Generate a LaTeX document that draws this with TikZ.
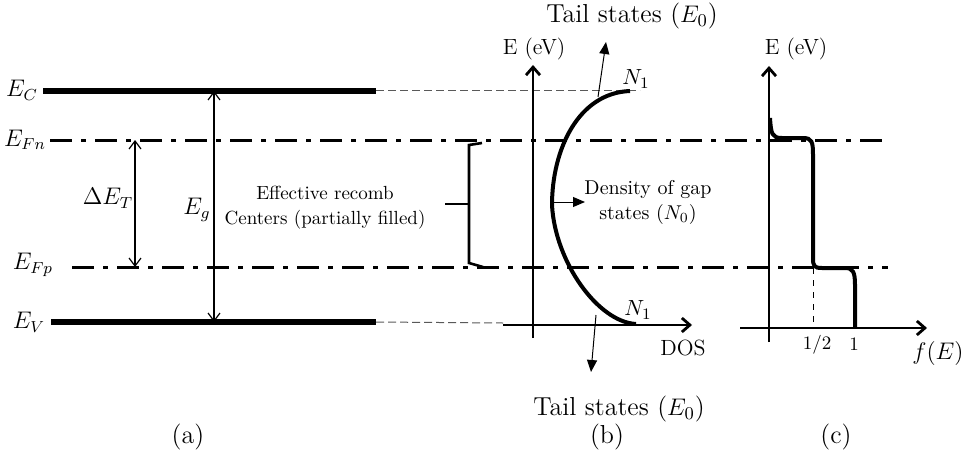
\documentclass[tikz,border=0pt]{standalone}
\usepackage{amsmath,amssymb}
\usetikzlibrary{arrows.meta,positioning}

\begin{document}
\begin{tikzpicture}[
  x=0.5pt, y=-0.5pt,
  band/.style={line width=2.6pt},
  fermi/.style={line width=1.5pt, dash pattern=on 11pt off 4.5pt on 2.5pt off 4.5pt},
  ext/.style={line width=0.5pt, black!65, dash pattern=on 4pt off 2pt},
  axis/.style={line width=1.4pt, -{Straight Barb[length=4pt,width=7pt]}},
  dimarr/.style={line width=0.6pt, {Straight Barb[length=4pt,width=6pt]}-{Straight Barb[length=4pt,width=6pt]}},
  tail/.style={line width=0.5pt, -{Triangle[length=6pt,width=5pt]}},
  curve/.style={line width=2pt},
  lab/.style={font=\fontsize{11}{13}\selectfont, inner sep=1pt},
  elab/.style={font=\fontsize{12}{14}\selectfont, inner sep=1pt},
  txt/.style={font=\fontsize{9.5}{12.5}\selectfont, align=center, inner sep=1pt},
  big/.style={font=\fontsize{13}{15}\selectfont, inner sep=1pt}
]
\useasboundingbox (0,0) rectangle (967,460);

% (a) band diagram
\coordinate (ECl) at (43,91);   \coordinate (ECr) at (376,91);  \coordinate (ECd) at (640,91);
\coordinate (EVl) at (51,322);  \coordinate (EVr) at (376,322); \coordinate (EVd) at (503,323);
\coordinate (EFnl) at (50,140); \coordinate (EFnr) at (885,140);
\coordinate (EFpl) at (72,267); \coordinate (EFpr) at (888,267);
\coordinate (dEt) at (135,140); \coordinate (dEb) at (135,267);
\coordinate (Egt) at (214,91);  \coordinate (Egb) at (214,322);

\draw[band] (ECl) -- (ECr);
\draw[band] (EVl) -- (EVr);
\draw[ext] (ECr) -- (ECd);
\draw[ext] (EVr) -- (EVd);
\draw[fermi] (EFnl) -- (EFnr);
\draw[fermi] (EFpl) -- (EFpr);
\draw[dimarr] (dEt) -- (dEb);
\draw[dimarr] (Egt) -- (Egb);

\node[elab] (ec) at (22,90) {$E_C$};
\node[elab] (efn) at (25,140) {$E_{Fn}$};
\node[elab] (efp) at (33,265) {$E_{Fp}$};
\node[elab] (ev) at (29,322) {$E_V$};
\node[elab] (de) at (108,198) {$\Delta E_T$};
\node[elab] (eg) at (197,210) {$E_g$};
\node[txt] (rec) at (325,208) {Effective recomb\\Centers (partially filled)};

% brace for the recombination centres
\coordinate (br1) at (482,143); \coordinate (br2) at (469,145);
\coordinate (br3) at (469,263); \coordinate (br4) at (483,267);
\coordinate (brm) at (469,204); \coordinate (brt) at (445,204);
\draw[line width=1.3pt] (br1) -- (br2) -- (br3) -- (br4);
\draw[line width=1.3pt] (brt) -- (brm);

% (b) density of states
\coordinate (Ob) at (533,338);  \coordinate (Eb) at (533,65);
\coordinate (Db0) at (503,325); \coordinate (Db) at (692,325);
\draw[axis] (Ob) -- (Eb);
\draw[axis] (Db0) -- (Db);
\node[lab] (Elb) at (534,49) {E (eV)};
\node[lab] (dos) at (683,348) {DOS};

\coordinate (N1t) at (630,91); \coordinate (N1b) at (636,324);
\draw[curve] (N1t) .. controls (578,93) and (552,150) .. (552,205)
  .. controls (555,262) and (598,322) .. (N1b);
\node[lab] (n1t) at (636,79) {$N_1$};
\node[lab] (n1b) at (638,310) {$N_1$};

\coordinate (ts1) at (598,97);  \coordinate (te1) at (606,42);
\coordinate (ts2) at (596,315); \coordinate (te2) at (591,372);
\draw[tail] (ts1) -- (te1);
\draw[tail] (ts2) -- (te2);
\node[big] (tailt) at (632,16) {Tail states ($E_0$)};
\node[big] (tailb) at (619,409) {Tail states ($E_0$)};

\coordinate (gs) at (553,202); \coordinate (ge) at (585,202);
\draw[tail] (gs) -- (ge);
\node[txt, font=\fontsize{10}{12.5}\selectfont] (gap) at (648,202) {Density of gap\\states ($N_0$)};

% (c) occupation function
\coordinate (Oc) at (769,342); \coordinate (Ec) at (769,66);
\coordinate (Fc0) at (740,328); \coordinate (Fc) at (927,328);
\draw[axis] (Oc) -- (Ec);
\draw[axis] (Fc0) -- (Fc);
\node[lab] (Elc) at (796,49) {E (eV)};
\node[elab] (fe) at (938,353) {$f(E)$};
\node[lab, font=\fontsize{9.5}{11}\selectfont] (half) at (817,345) {1/2};
\node[lab, font=\fontsize{9.5}{11}\selectfont] (one) at (854,344) {1};

\coordinate (s0) at (770,118); \coordinate (s9) at (855,328);
\coordinate (hf) at (813,268); \coordinate (hf0) at (813,328);
\draw[curve] (s0) .. controls (771,134) and (772,138) .. (782,138) -- (803,138)
  .. controls (812,138) and (813,142) .. (813,155) -- (813,258)
  .. controls (813,266) and (814,268) .. (822,268) -- (845,268)
  .. controls (853,268) and (855,272) .. (855,285) -- (s9);
\draw[line width=0.5pt, dashed] (hf) -- (hf0);

% captions
\node[big] (ca) at (188,437) {(a)};
\node[big] (cb) at (607,437) {(b)};
\node[big] (cc) at (836,437) {(c)};
\end{tikzpicture}
\end{document}
